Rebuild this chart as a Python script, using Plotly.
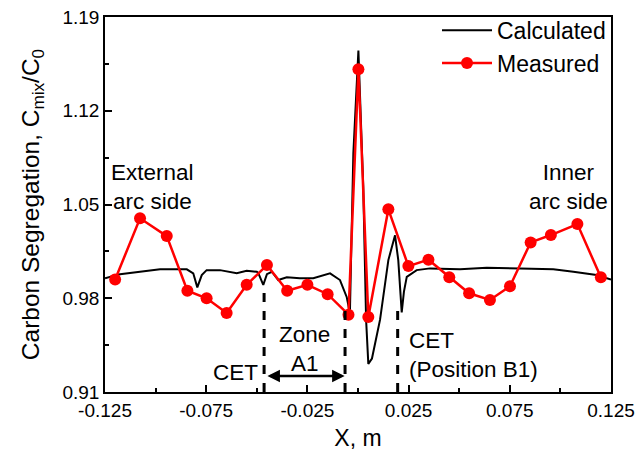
import plotly.graph_objects as go

# Calculated profile
calc_x = [-0.125, -0.1176, -0.1077, -0.0978, -0.0846, -0.0814, -0.0794, -0.0772, -0.0748,
          -0.0682, -0.0599, -0.055, -0.0500, -0.0493, -0.0468, -0.0450, -0.0426, -0.0394,
          -0.0352, -0.0287, -0.0221, -0.0138, -0.0089, -0.0056, -0.0040, -0.0023, 0.0002,
          0.0026, 0.0040, 0.0051, 0.0069, 0.0109, 0.0150, 0.0183, 0.0199, 0.0216, 0.0227,
          0.0241, 0.0290, 0.0356, 0.0504, 0.0636, 0.0800, 0.0965, 0.1064, 0.1179, 0.125]
calc_y = [0.995, 0.998, 0.9998, 1.0016, 1.0016, 0.9986, 0.9881, 0.9973, 1.001,
          1.001, 0.9986, 1.0005, 0.9998, 0.999, 0.990, 0.998, 0.9998, 0.9936,
          0.9956, 0.995, 0.995, 0.9986, 0.9936, 0.981, 0.969, 1.088, 1.165,
          1.063, 0.964, 0.931, 0.935, 0.964, 1.0085, 1.027, 1.0085, 0.9695, 0.985,
          0.996, 1.001, 1.0023, 1.0016, 1.0028, 1.0023, 1.0016, 0.9998, 0.9973, 0.994]

# Measured points
meas_x = [-0.120, -0.1077, -0.0945, -0.0843, -0.0748, -0.0649, -0.055, -0.045, -0.035,
          -0.025, -0.015, -0.0047, 0.0002, 0.0051, 0.015, 0.0249, 0.0348, 0.0451, 0.0549,
          0.0652, 0.0751, 0.0853, 0.0953, 0.1084, 0.120]
meas_y = [0.994, 1.0397, 1.0264, 0.9856, 0.980, 0.969, 0.990, 1.0048, 0.9856,
          0.990, 0.983, 0.9677, 1.151, 0.966, 1.0464, 1.0040, 1.0088, 0.9956, 0.9837,
          0.9787, 0.989, 1.0217, 1.0272, 1.0354, 0.9956]

x_ticks = [-0.125, -0.075, -0.025, 0.025, 0.075, 0.125]
x_minor = [-0.1, -0.05, 0.0, 0.05, 0.1]
y_ticks = [0.91, 0.98, 1.05, 1.12, 1.19]
y_minor = [0.945, 1.015, 1.085, 1.155]

# Vertical dashed markers (x, top y)
dash_x = [-0.0464, -0.0064, 0.0196]
dash_top = [0.9884, 0.9712, 0.9734]

FONT = "Arial, 'Liberation Sans', sans-serif"

fig = go.Figure()
fig.add_trace(go.Scatter(x=calc_x, y=calc_y, mode="lines", name="Calculated",
                         line=dict(color="black", width=2)))
fig.add_trace(go.Scatter(x=meas_x, y=meas_y, mode="lines+markers", name="Measured",
                         line=dict(color="#ff0000", width=2.5),
                         marker=dict(color="#ff0000", size=12)))

for xv, yt in zip(dash_x, dash_top):
    fig.add_shape(type="line", xref="x", yref="y", x0=xv, x1=xv, y0=0.91, y1=yt,
                  line=dict(color="black", width=3, dash="dash"))

ann_font = dict(family=FONT, size=22.5, color="black")
fig.add_annotation(x=-0.1013, y=1.0627, text="External<br>arc side", showarrow=False, font=ann_font)
fig.add_annotation(x=0.1038, y=1.0627, text="Inner<br>arc side", showarrow=False, font=ann_font)
fig.add_annotation(x=-0.0262, y=0.942, text="Zone<br>A1", showarrow=False, font=ann_font)
fig.add_annotation(x=-0.0603, y=0.9249, text="CET", showarrow=False, font=ann_font)
fig.add_annotation(x=0.0242, y=0.938, text="CET<br>(Position B1)", showarrow=False,
                   font=ann_font, xanchor="left", align="left")
fig.add_annotation(x=-0.0066, y=0.9219, ax=-0.0455, ay=0.9219, axref="x", ayref="y",
                   xref="x", yref="y", text="", showarrow=True, arrowhead=2,
                   arrowside="end+start", arrowwidth=2.5, arrowsize=1, arrowcolor="black")

fig.update_layout(
    template="none",
    width=636, height=451,
    margin=dict(l=105, r=25, t=17, b=59, autoexpand=False),
    paper_bgcolor="white", plot_bgcolor="white",
    font=dict(family=FONT, size=19, color="black"),
    showlegend=True,
    legend=dict(x=1, y=1.022, xanchor="right", yanchor="top", bgcolor="rgba(0,0,0,0)",
                font=dict(size=23), itemwidth=50, tracegroupgap=0),
)
fig.update_xaxes(range=[-0.12501, 0.12501], tickvals=x_ticks, ticktext=[f"{v:g}" for v in x_ticks],
                 ticks="inside", ticklen=7, tickwidth=1.5, tickcolor="black",
                 ticklabeloverflow="allow",
                 minor=dict(tickvals=x_minor, ticks="inside", ticklen=4, tickwidth=1.5, tickcolor="black"),
                 showline=True, linecolor="black", linewidth=1.5, mirror=True,
                 showgrid=False, zeroline=False, automargin=False,
                 title=dict(text="X, m", font=dict(size=23)))
fig.update_yaxes(range=[0.91, 1.19], tickvals=y_ticks, ticktext=[f"{v:.2f}" for v in y_ticks],
                 ticks="inside", ticklen=7, tickwidth=1.5, tickcolor="black",
                 ticklabeloverflow="allow",
                 minor=dict(tickvals=y_minor, ticks="inside", ticklen=4, tickwidth=1.5, tickcolor="black"),
                 showline=True, linecolor="black", linewidth=1.5, mirror=True,
                 showgrid=False, zeroline=False, automargin=False,
                 title=dict(text="Carbon Segregation, C<sub>mix</sub>/C<sub>0</sub>",
                            font=dict(size=24.5), standoff=16))

fig.write_html("out.html", config={"displayModeBar": False},
               post_script="document.body.style.margin='0px';")
